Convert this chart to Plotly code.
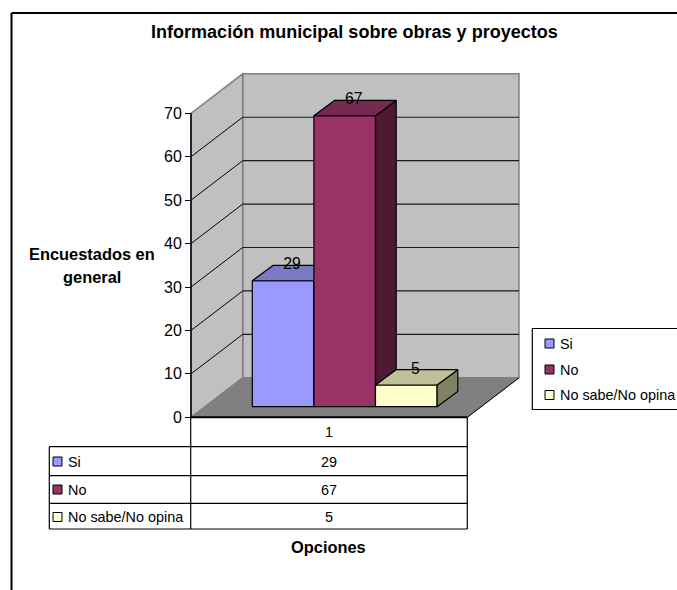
import plotly.graph_objects as go

# ---- data ----
series_names = ["Si", "No", "No sabe/No opina"]
series_values = [29, 67, 5]
category_labels = ["1"]
tick_values = [0, 10, 20, 30, 40, 50, 60, 70]
chart_title = "Información municipal sobre obras y proyectos"
y_title_lines = ["Encuestados en", "general"]
x_title = "Opciones"
front_colors = ["#9999FF", "#993366", "#FFFFCC"]
top_colors = ["#7A7AC7", "#752A50", "#BFBF99"]
side_colors = ["#4D4D80", "#4D1A33", "#808066"]

# ---- layout geometry (pixels of the 677x590 canvas) ----
W, H = 677, 590
Y0_PX, Y70_PX = 417.3, 113.3
UNIT = (Y0_PX - Y70_PX) / 70.0
FONT = "Liberation Sans"


def val(py):
    return (Y0_PX - py) / UNIT


LEFT, RIGHT = 191.0, 467.3
DX, DV = 51.7, 39.5 / UNIT           # depth of the floor
BAR_X0, BAR_W = 252.3, 61.6
BAR_BASE = val(406.7)
BAR_DX, BAR_DV = 20.7, 15.3 / UNIT   # depth of a bar
TOP = max(tick_values)


def path(points):
    return "M" + "L".join(f"{x},{y}" for x, y in points) + "Z"


def line_shape(x0, y0, x1, y1, color="#000000", width=1.0, layer="below"):
    return dict(type="line", xref="x", yref="y", x0=x0, y0=y0, x1=x1, y1=y1,
                line=dict(color=color, width=width), layer=layer)


shapes = [
    # back wall, left wall, floor
    dict(type="path", xref="x", yref="y", layer="below", fillcolor="#C0C0C0", line=dict(color="#808080", width=1.5),
         path=path([(LEFT + DX, DV), (RIGHT + DX, DV), (RIGHT + DX, TOP + DV), (LEFT + DX, TOP + DV)])),
    dict(type="path", xref="x", yref="y", layer="below", fillcolor="#C0C0C0", line=dict(color="#808080", width=1.5),
         path=path([(LEFT, 0), (LEFT + DX, DV), (LEFT + DX, TOP + DV), (LEFT, TOP)])),
    dict(type="path", xref="x", yref="y", layer="below", fillcolor="#808080", line=dict(color="#808080", width=1),
         path=path([(LEFT, 0), (RIGHT, 0), (RIGHT + DX, DV), (LEFT + DX, DV)])),
]
for t in tick_values[1:-1]:
    shapes.append(line_shape(LEFT + DX, t + DV, RIGHT + DX, t + DV, "#1a1a1a", 1.2))
    shapes.append(line_shape(LEFT, t, LEFT + DX, t + DV, "#000000", 1.0))
shapes.append(line_shape(LEFT, 0, LEFT, TOP, "#000000", 1.5))
shapes.append(line_shape(RIGHT, 0, RIGHT + DX, DV, "#000000", 1.0))

# outer chart frame: only top and left edges fall inside the window
shapes.append(line_shape(11.5, val(13), W + 5, val(13), "#000000", 2))
shapes.append(line_shape(11.5, val(13), 11.5, val(H + 5), "#000000", 2))

# data table
T_L, T_M, T_R = 49.3, 190.7, 467.3
ROWS = [Y0_PX, 446.7, 475.7, 503.3, 529.0]
shapes.append(line_shape(T_M, val(ROWS[0]), T_M, val(ROWS[-1]), "#000000", 1.2))
shapes.append(line_shape(T_R, val(ROWS[0]), T_R, val(ROWS[-1]), "#000000", 1.2))
shapes.append(line_shape(T_L, val(ROWS[1]), T_L, val(ROWS[-1]), "#000000", 1.2))
shapes.append(line_shape(LEFT, 0, RIGHT, 0, "#000000", 2))
for r in ROWS[1:]:
    shapes.append(line_shape(T_L, val(r), T_R, val(r), "#000000", 1.2))

annotations = []


def text(x, y, s, size=14.4, bold=False, anchor="center"):
    annotations.append(dict(
        xref="x", yref="y", x=x, y=val(y), text=f"<b>{s}</b>" if bold else s, showarrow=False,
        xanchor=anchor, yanchor="middle", align="center", borderpad=0,
        font=dict(family=FONT, size=size, color="#000000")))


def key(x, y, color, size=9):
    shapes.append(dict(type="rect", xref="x", yref="y", layer="above", x0=x, x1=x + size,
                       y0=val(y + size / 2), y1=val(y - size / 2), fillcolor=color,
                       line=dict(color="#000000", width=1)))


mid_table = (T_M + T_R) / 2
text(mid_table, 432, category_labels[0])
row_centers = [461.5, 489.5, 517]
for name, v, c, rc in zip(series_names, series_values, front_colors, row_centers):
    key(53, rc, c)
    text(67, rc, name, anchor="left")
    text(mid_table, rc, str(v))

# legend box
shapes.append(dict(type="rect", xref="x", yref="y", layer="below", x0=532.3, x1=W + 5,
                   y0=val(409.5), y1=val(328.5), fillcolor="#FFFFFF", line=dict(color="#000000", width=1.2)))
for name, c, rc in zip(series_names, front_colors, [343.5, 369.5, 395]):
    key(545, rc, c)
    text(559, rc, name, anchor="left")

text(354.5, 32, chart_title, size=18.05, bold=True)
text(91.5, 254, y_title_lines[0], size=16.4, bold=True)
text(91.5, 277, y_title_lines[1], size=16.4, bold=True)
text(328.5, 547, x_title, size=16.4, bold=True)

# ---- marks ----
fig = go.Figure()
for i, (name, v) in enumerate(zip(series_names, series_values)):
    x0 = BAR_X0 + i * BAR_W
    x1 = x0 + BAR_W
    t = BAR_BASE + v
    z = i + 1
    top = [(x0, t), (x0 + BAR_DX, t + BAR_DV), (x1 + BAR_DX, t + BAR_DV), (x1, t), (x0, t)]
    side = [(x1, BAR_BASE), (x1 + BAR_DX, BAR_BASE + BAR_DV), (x1 + BAR_DX, t + BAR_DV), (x1, t), (x1, BAR_BASE)]
    for pts, col in ((side, side_colors[i]), (top, top_colors[i])):
        fig.add_trace(go.Scatter(x=[p[0] for p in pts], y=[p[1] for p in pts], mode="lines", fill="toself",
                                 fillcolor=col, line=dict(color="#000000", width=1.2), zorder=z,
                                 showlegend=False, hoverinfo="skip"))
    fig.add_trace(go.Bar(x=[(x0 + x1) / 2], y=[v], base=[BAR_BASE], width=[BAR_W], name=name, zorder=z,
                         marker=dict(color=front_colors[i], line=dict(color="#000000", width=1.2)),
                         showlegend=False))
    fig.add_trace(go.Scatter(x=[(x0 + x1) / 2 + 9], y=[t + BAR_DV + 0.02], mode="text", text=[str(v)], zorder=5,
                             textposition="middle center", showlegend=False, hoverinfo="skip",
                             textfont=dict(family=FONT, size=15.8, color="#000000")))

fig.update_layout(
    width=W, height=H, autosize=False, margin=dict(l=0, r=0, t=0, b=0, pad=0),
    paper_bgcolor="#FFFFFF", plot_bgcolor="#FFFFFF", barmode="overlay", showlegend=False,
    shapes=shapes, annotations=annotations,
    xaxis=dict(range=[0, W], visible=False, fixedrange=True),
    yaxis=dict(range=[val(H), val(0)], anchor="free", position=LEFT / W, tickmode="array",
               tickvals=tick_values, ticks="outside", ticklen=6, tickcolor="#000000", tickwidth=1,
               showgrid=False, zeroline=False, showline=False, fixedrange=True,
               tickfont=dict(family=FONT, size=16, color="#000000")),
)
fig.write_html("out.html", config={"displayModeBar": False},
               post_script="document.body.style.margin='0';")
